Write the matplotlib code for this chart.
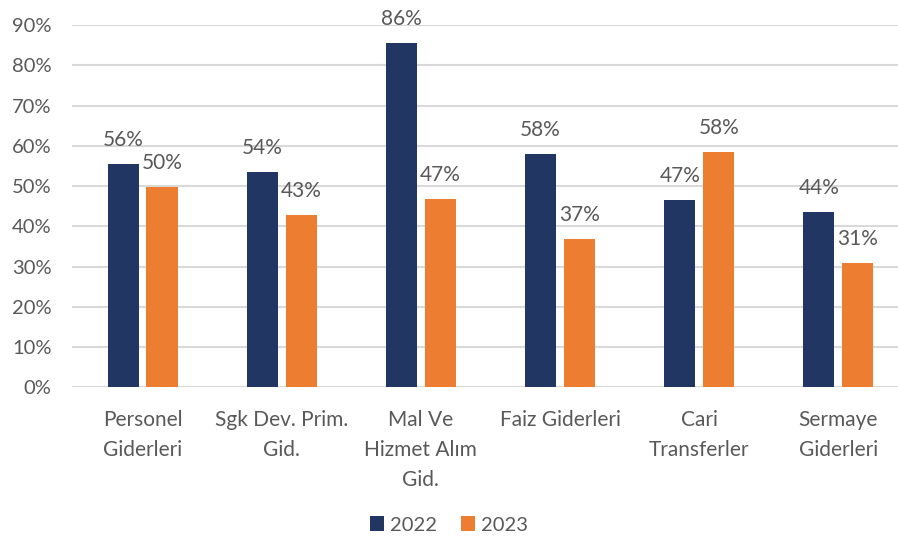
import matplotlib
matplotlib.use("Agg")
import matplotlib.pyplot as plt
from matplotlib.patches import Patch
import numpy as np

categories = ["Personel\nGiderleri", "Sgk Dev. Prim.\nGid.", "Mal Ve\nHizmet Alım\nGid.",
              "Faiz Giderleri", "Cari\nTransferler", "Sermaye\nGiderleri"]
series_names = ["2022", "2023"]
values_2022 = [55.6, 53.5, 85.7, 58.1, 46.6, 43.5]
values_2023 = [49.8, 42.9, 46.9, 36.9, 58.4, 30.9]
yticks = [0, 10, 20, 30, 40, 50, 60, 70, 80, 90]

navy = "#213662"
orange = "#ED7D31"
text_c = "#595959"
grid_c = "#D9D9D9"
font = ["Lato", "DejaVu Sans"]

fig = plt.figure(figsize=(8.98, 5.40), dpi=100)
ax = fig.add_axes([0.0806, 0.2828, 0.9194, 0.6704])

x = np.arange(len(categories))
w = 0.223
off = 0.14
b1 = ax.bar(x - off, values_2022, w, color=navy, zorder=3)
b2 = ax.bar(x + off, values_2023, w, color=orange, zorder=3)

for bars, vals in ((b1, values_2022), (b2, values_2023)):
    for rect, v in zip(bars, vals):
        ax.annotate(f"{round(v)}%", (rect.get_x() + rect.get_width() / 2, v),
                    xytext=(0, 10), textcoords="offset points", ha="center", va="bottom",
                    fontsize=15, color=text_c, family=font)

ax.set_ylim(0, 90)
ax.set_xlim(-0.504, 5.428)
ax.set_yticks(yticks)
ax.set_yticklabels([f"{t}%" for t in yticks], fontsize=14.5, color=text_c, family=font)
ax.set_xticks(x)
ax.set_xticklabels(categories, fontsize=15, color=text_c, family=font, linespacing=1.65, va="top")
ax.tick_params(axis="y", length=0, pad=15)
ax.tick_params(axis="x", length=0, pad=16)
ax.yaxis.grid(True, color=grid_c, linewidth=1.5, zorder=0)
ax.set_axisbelow(True)
for s in ax.spines.values():
    s.set_visible(False)

handles = [Patch(facecolor=navy, label="2022"), Patch(facecolor=orange, label="2023")]
fig.legend(handles=handles, loc="center", bbox_to_anchor=(449 / 898, 1 - 525 / 540), ncol=2,
           frameon=False, prop={"family": font, "size": 14.5}, labelcolor=text_c,
           handlelength=0.7, handleheight=0.7, handletextpad=0.3, columnspacing=1.2)

fig.savefig("out.png", dpi=100, facecolor="white")
